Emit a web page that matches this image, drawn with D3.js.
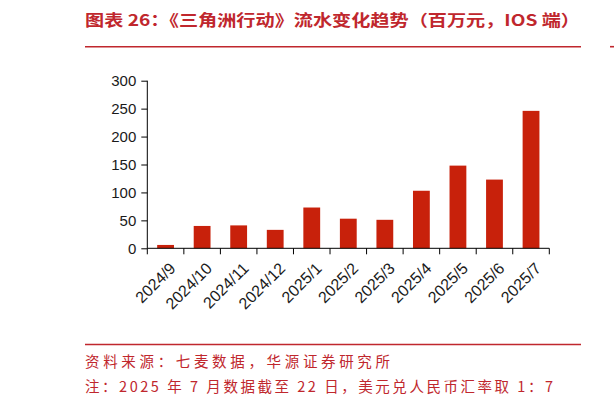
<!DOCTYPE html>
<html>
<head>
<meta charset="utf-8">
<script src="https://cdn.jsdelivr.net/npm/d3@7"></script>
<style>
  html, body { margin: 0; padding: 0; background: #fff; }
  svg { display: block; }
</style>
</head>
<body>
<svg id="chart"></svg>
<script>
// 《三角洲行动》流水变化趋势 (百万元, IOS 端)

// Data
const months = ["2024/9", "2024/10", "2024/11", "2024/12", "2025/1", "2025/2",
                "2025/3", "2025/4", "2025/5", "2025/6", "2025/7"];
const revenue = [6, 40, 41, 33, 73, 53, 51, 103, 148, 123, 246];
const yTicks = [0, 50, 100, 150, 200, 250, 300];

const titleText = "图表 26：《三角洲行动》流水变化趋势（百万元，IOS 端）";
const sourceText = "资料来源：七麦数据，华源证券研究所";
const noteText = "注：2025 年 7 月数据截至 22 日，美元兑人民币汇率取 1：7";

// Config
const width = 614;
const height = 406;
const red = "#c0272d";
const barColor = "#c8210b";
const plot = { left: 147.3, right: 549.3, top: 80.7, bottom: 248.3 };
const cjk = "'Noto Sans CJK SC', 'Noto Sans', sans-serif";
const latin = "'Liberation Sans', Arial, sans-serif";

const svg = d3.select("#chart")
  .attr("width", width)
  .attr("height", height);

// Title + rules
svg.append("text")
  .attr("x", 85)
  .attr("y", 26)
  .attr("font-family", cjk)
  .attr("font-size", 16)
  .attr("font-weight", "bold")
  .attr("fill", red)
  .attr("textLength", 495)
  .attr("lengthAdjust", "spacingAndGlyphs")
  .text(titleText);

svg.append("line")
  .attr("x1", 85).attr("x2", 581)
  .attr("y1", 46.7).attr("y2", 46.7)
  .attr("stroke", red)
  .attr("stroke-width", 1.6);

svg.append("line")
  .attr("x1", 85).attr("x2", 581)
  .attr("y1", 344.5).attr("y2", 344.5)
  .attr("stroke", red)
  .attr("stroke-width", 1.6);

// neighbouring column edge on the right
svg.append("line")
  .attr("x1", 610).attr("x2", 614)
  .attr("y1", 46.7).attr("y2", 46.7)
  .attr("stroke", red)
  .attr("stroke-width", 1.6);

// Scales
const x = d3.scaleBand()
  .domain(months)
  .range([plot.left, plot.right])
  .paddingInner(0.54)
  .paddingOuter(0.27);

const y = d3.scaleLinear()
  .domain([0, 300])
  .range([plot.bottom, plot.top]);

// Bars
svg.append("g")
  .selectAll("rect")
  .data(months)
  .join("rect")
  .attr("x", d => x(d))
  .attr("y", (d, i) => y(revenue[i]))
  .attr("width", x.bandwidth())
  .attr("height", (d, i) => y(0) - y(revenue[i]))
  .attr("fill", barColor);

// Y axis
const yAxis = d3.axisLeft(y)
  .tickValues(yTicks)
  .tickSize(6)
  .tickPadding(5);

svg.append("g")
  .attr("class", "y-axis")
  .attr("transform", `translate(${plot.left},0)`)
  .call(yAxis)
  .call(g => g.select(".domain").attr("d", `M0,${plot.top}V${plot.bottom}`))
  .call(g => g.selectAll("text")
    .attr("font-family", latin)
    .attr("font-size", 15)
    .attr("fill", "#1a1a1a"));

// X axis: ticks on the band edges, labels rotated
const xAxisG = svg.append("g")
  .attr("class", "x-axis")
  .attr("transform", `translate(0,${plot.bottom})`);

xAxisG.append("line")
  .attr("x1", plot.left).attr("x2", plot.right)
  .attr("stroke", "#000");

const step = x.step();
const edges = d3.range(months.length + 1).map(i => plot.left + i * step);

xAxisG.selectAll(".edge-tick")
  .data(edges)
  .join("line")
  .attr("class", "edge-tick")
  .attr("x1", d => d).attr("x2", d => d)
  .attr("y1", 0).attr("y2", 6)
  .attr("stroke", "#000");

xAxisG.selectAll(".x-label")
  .data(months)
  .join("text")
  .attr("class", "x-label")
  .attr("transform", d => `translate(${x(d) + x.bandwidth() / 2 + 3},${13}) rotate(-45)`)
  .attr("text-anchor", "end")
  .attr("dy", "0.71em")
  .attr("font-family", latin)
  .attr("font-size", 16)
  .attr("fill", "#1a1a1a")
  .text(d => d);

// Footer
svg.append("text")
  .attr("x", 85)
  .attr("y", 367)
  .attr("font-family", cjk)
  .attr("font-size", 14.5)
  .attr("fill", red)
  .attr("textLength", 305)
  .attr("lengthAdjust", "spacing")
  .text(sourceText);

svg.append("text")
  .attr("x", 85)
  .attr("y", 392)
  .attr("font-family", cjk)
  .attr("font-size", 14.5)
  .attr("fill", red)
  .attr("textLength", 468)
  .attr("lengthAdjust", "spacing")
  .text(noteText);
</script>
</body>
</html>
